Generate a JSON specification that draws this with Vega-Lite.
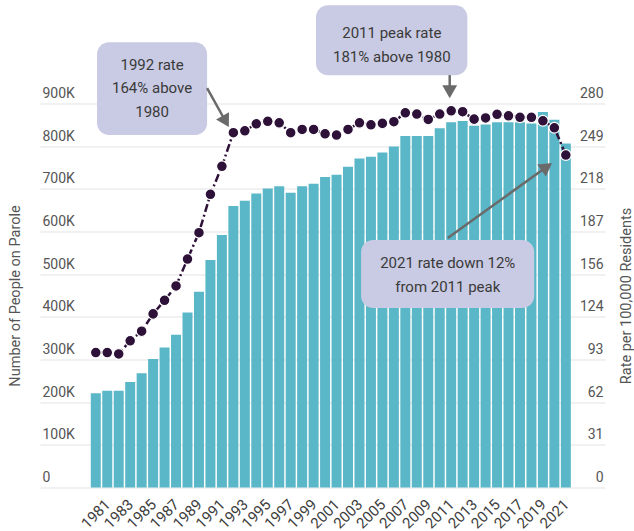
{
  "$schema": "https://vega.github.io/schema/vega-lite/v6.json",
  "width": 565,
  "height": 384,
  "autosize": {"type": "none"},
  "padding": {"left": 40, "top": 103.5, "right": 29, "bottom": 43.5},
  "background": "#ffffff",
  "config": {
    "font": "Roboto",
    "view": {"stroke": null},
    "axis": {"labelFont": "Roboto", "titleFont": "Roboto"}
  },
  "datasets": {
    "parole": [
      {"year": 1980, "people": 221000, "rate": 98.4},
      {"year": 1981, "people": 227000, "rate": 98.4},
      {"year": 1982, "people": 227000, "rate": 97.4},
      {"year": 1983, "people": 247000, "rate": 107},
      {"year": 1984, "people": 268000, "rate": 114},
      {"year": 1985, "people": 301000, "rate": 126.6},
      {"year": 1986, "people": 328000, "rate": 136.5},
      {"year": 1987, "people": 358000, "rate": 147},
      {"year": 1988, "people": 410000, "rate": 166.6},
      {"year": 1989, "people": 459000, "rate": 185.8},
      {"year": 1990, "people": 533000, "rate": 213.8},
      {"year": 1991, "people": 592000, "rate": 234.2},
      {"year": 1992, "people": 660000, "rate": 258.7},
      {"year": 1993, "people": 672000, "rate": 260.1},
      {"year": 1994, "people": 689000, "rate": 265.2},
      {"year": 1995, "people": 701000, "rate": 267},
      {"year": 1996, "people": 706000, "rate": 265.9},
      {"year": 1997, "people": 691000, "rate": 258.7},
      {"year": 1998, "people": 706000, "rate": 261.1},
      {"year": 1999, "people": 712000, "rate": 261.1},
      {"year": 2000, "people": 728000, "rate": 257.9},
      {"year": 2001, "people": 733000, "rate": 257},
      {"year": 2002, "people": 752000, "rate": 261.1},
      {"year": 2003, "people": 771000, "rate": 265.9},
      {"year": 2004, "people": 775000, "rate": 264.5},
      {"year": 2005, "people": 785000, "rate": 265.5},
      {"year": 2006, "people": 799000, "rate": 266.7},
      {"year": 2007, "people": 824000, "rate": 273.2},
      {"year": 2008, "people": 824000, "rate": 272.3},
      {"year": 2009, "people": 824000, "rate": 268.4},
      {"year": 2010, "people": 842000, "rate": 272.3},
      {"year": 2011, "people": 856000, "rate": 274.7},
      {"year": 2012, "people": 859000, "rate": 274},
      {"year": 2013, "people": 848000, "rate": 268.6},
      {"year": 2014, "people": 851000, "rate": 269.5},
      {"year": 2015, "people": 856000, "rate": 272.1},
      {"year": 2016, "people": 856000, "rate": 271},
      {"year": 2017, "people": 856000, "rate": 269.9},
      {"year": 2018, "people": 853000, "rate": 269.9},
      {"year": 2019, "people": 880000, "rate": 267.4},
      {"year": 2020, "people": 862000, "rate": 262.3},
      {"year": 2021, "people": 806000, "rate": 242.4}
    ],
    "notes": [
      {"x0": 1980.11, "x1": 1989.71, "y0": 826000, "y1": 1043800, "tx": 1984.91, "ty": 991100, "label": "1992 rate\n164% above\n1980"},
      {"x0": 1999.21, "x1": 2012.41, "y0": 966500, "y1": 1130400, "tx": 2005.82, "ty": 1064900, "label": "2011 peak rate\n181% above 1980"},
      {"x0": 2003.14, "x1": 2018.24, "y0": 420800, "y1": 580100, "tx": 2010.70, "ty": 525500, "label": "2021 rate down 12%\nfrom 2011 peak"}
    ],
    "arrows": [
      {"ax0": 1989.71, "ay0": 935800, "ax1": 1991.33, "ay1": 857800},
      {"ax0": 2010.87, "ay0": 966500, "ax1": 2010.87, "ay1": 927600},
      {"ax0": 2010.70, "ay0": 584800, "ax1": 2019.34, "ay1": 751800}
    ]
  },
  "resolve": {"scale": {"y": "independent"}, "axis": {"y": "independent", "x": "independent"}},
  "layer": [
    {
      "data": {"name": "parole"},
      "mark": {"type": "bar", "orient": "vertical", "size": 10, "color": "#5ab7c7"},
      "encoding": {
        "x": {
          "field": "year", "type": "quantitative",
          "scale": {"domain": [1975.57, 2023.98], "nice": false, "zero": false},
          "axis": {
            "values": [1981, 1983, 1985, 1987, 1989, 1991, 1993, 1995, 1997, 1999, 2001, 2003, 2005, 2007, 2009, 2011, 2013, 2015, 2017, 2019, 2021],
            "format": "d", "title": null, "grid": false, "domain": false, "ticks": false,
            "labelAngle": -45, "labelAlign": "right", "labelBaseline": "middle",
            "labelPadding": 14, "labelFontSize": 15, "labelColor": "#3c3c3c", "labelOverlap": false
          }
        },
        "y": {
          "field": "people", "type": "quantitative",
          "scale": {"domain": [0, 900000], "nice": false},
          "axis": {
            "orient": "left", "values": [0, 100000, 200000, 300000, 400000, 500000, 600000, 700000, 800000, 900000],
            "labelExpr": "datum.value == 0 ? '0' : (datum.value / 1000) + 'K'",
            "grid": true, "gridColor": "#e3e3e3", "gridWidth": 1, "domain": false, "ticks": false, "tickSize": 0,
            "labelAlign": "left", "labelBaseline": "bottom", "labelPadding": -2, "labelOffset": -3,
            "labelFontSize": 14, "labelColor": "#555555",
            "title": "Number of People on Parole", "titleFontSize": 14.5, "titleFontWeight": "normal", "titleColor": "#555555",
            "titleX": -25, "titleY": 192, "titleAngle": -90, "titleBaseline": "middle", "titleAlign": "center"
          }
        }
      }
    },
    {
      "data": {"name": "parole"},
      "mark": {"type": "line", "color": "#2d1138", "strokeWidth": 2.5, "strokeDash": [8, 3, 2, 3]},
      "encoding": {
        "x": {"field": "year", "type": "quantitative", "scale": {"domain": [1975.57, 2023.98], "nice": false, "zero": false}, "axis": null},
        "y": {
          "field": "rate", "type": "quantitative",
          "scale": {"domain": [0, 280], "nice": false},
          "axis": {
            "orient": "right",
            "values": [0, 31.111, 62.222, 93.333, 124.444, 155.556, 186.667, 217.778, 248.889, 280],
            "format": ".0f", "grid": false, "domain": false, "ticks": false, "tickSize": 0,
            "labelAlign": "right", "labelBaseline": "bottom", "labelPadding": -2, "labelOffset": -3,
            "labelFontSize": 14, "labelColor": "#555555",
            "title": "Rate per 100,000 Residents", "titleFontSize": 14.5, "titleFontWeight": "normal", "titleColor": "#555555",
            "titleX": 21, "titleY": 192, "titleAngle": -90, "titleBaseline": "middle", "titleAlign": "center"
          }
        }
      }
    },
    {
      "data": {"name": "parole"},
      "mark": {"type": "point", "filled": true, "size": 115, "color": "#2d1138", "stroke": "#ffffff", "strokeWidth": 1.2, "opacity": 1},
      "encoding": {
        "x": {"field": "year", "type": "quantitative", "scale": {"domain": [1975.57, 2023.98], "nice": false, "zero": false}, "axis": null},
        "y": {"field": "rate", "type": "quantitative", "scale": {"domain": [0, 280], "nice": false}, "axis": null}
      }
    },
    {
      "data": {"name": "notes"},
      "mark": {"type": "rect", "cornerRadius": 12, "color": "#c9cae3"},
      "encoding": {
        "x": {"field": "x0", "type": "quantitative", "scale": {"domain": [1975.57, 2023.98], "nice": false, "zero": false}, "axis": null},
        "x2": {"field": "x1"},
        "y": {"field": "y0", "type": "quantitative", "scale": {"domain": [0, 900000], "nice": false}, "axis": null},
        "y2": {"field": "y1"}
      }
    },
    {
      "data": {"name": "notes"},
      "mark": {"type": "text", "lineBreak": "\n", "lineHeight": 23.5, "fontSize": 15, "color": "#3a3a3a", "align": "center", "baseline": "middle"},
      "encoding": {
        "x": {"field": "tx", "type": "quantitative", "scale": {"domain": [1975.57, 2023.98], "nice": false, "zero": false}, "axis": null},
        "y": {"field": "ty", "type": "quantitative", "scale": {"domain": [0, 900000], "nice": false}, "axis": null},
        "text": {"field": "label"}
      }
    },
    {
      "data": {"name": "arrows"},
      "mark": {"type": "rule", "color": "#6a6a6a", "strokeWidth": 2.5},
      "encoding": {
        "x": {"field": "ax0", "type": "quantitative", "scale": {"domain": [1975.57, 2023.98], "nice": false, "zero": false}, "axis": null},
        "x2": {"field": "ax1"},
        "y": {"field": "ay0", "type": "quantitative", "scale": {"domain": [0, 900000], "nice": false}, "axis": null},
        "y2": {"field": "ay1"}
      }
    },
    {
      "data": {"values": [{}]},
      "mark": {"type": "point", "shape": "triangle-up", "filled": true, "size": 220, "color": "#6a6a6a", "opacity": 1, "angle": 150.6},
      "encoding": {
        "x": {"datum": 1991.33, "type": "quantitative", "scale": {"domain": [1975.57, 2023.98], "nice": false, "zero": false}, "axis": null},
        "y": {"datum": 857800, "type": "quantitative", "scale": {"domain": [0, 900000], "nice": false}, "axis": null}
      }
    },
    {
      "data": {"values": [{}]},
      "mark": {"type": "point", "shape": "triangle-up", "filled": true, "size": 220, "color": "#6a6a6a", "opacity": 1, "angle": 180},
      "encoding": {
        "x": {"datum": 2010.87, "type": "quantitative", "scale": {"domain": [1975.57, 2023.98], "nice": false, "zero": false}, "axis": null},
        "y": {"datum": 927600, "type": "quantitative", "scale": {"domain": [0, 900000], "nice": false}, "axis": null}
      }
    },
    {
      "data": {"values": [{}]},
      "mark": {"type": "point", "shape": "triangle-up", "filled": true, "size": 220, "color": "#6a6a6a", "opacity": 1, "angle": 54.7},
      "encoding": {
        "x": {"datum": 2019.34, "type": "quantitative", "scale": {"domain": [1975.57, 2023.98], "nice": false, "zero": false}, "axis": null},
        "y": {"datum": 751800, "type": "quantitative", "scale": {"domain": [0, 900000], "nice": false}, "axis": null}
      }
    }
  ]
}
